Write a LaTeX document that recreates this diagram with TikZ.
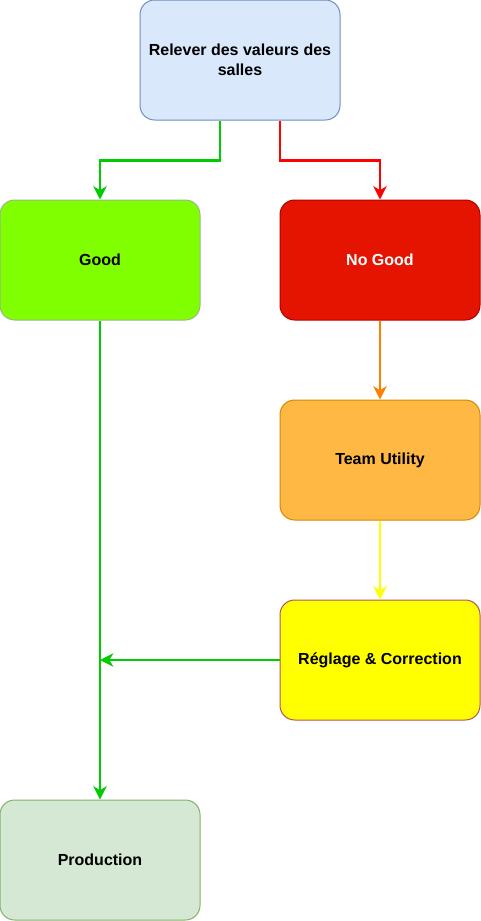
\documentclass[tikz,border=0pt]{standalone}
\usepackage{xcolor}
\usepackage{fontspec}
\setmainfont{Liberation Sans}
\usepackage{tikz}
\usetikzlibrary{positioning, arrows.meta}

\definecolor{bluefill}{HTML}{DAE8FC}
\definecolor{bluedraw}{HTML}{6C8EBF}
\definecolor{goodfill}{HTML}{80FF00}
\definecolor{gooddraw}{HTML}{97B883}
\definecolor{badfill}{HTML}{E51400}
\definecolor{baddraw}{HTML}{B20000}
\definecolor{teamfill}{HTML}{FFB843}
\definecolor{teamdraw}{HTML}{D08A00}
\definecolor{fixdraw}{HTML}{B85450}
\definecolor{prodfill}{HTML}{D5E8D4}
\definecolor{proddraw}{HTML}{82B366}
\definecolor{linegreen}{HTML}{00CC00}
\definecolor{linered}{HTML}{FF0000}
\definecolor{lineorange}{HTML}{FF8000}
\definecolor{lineyellow}{HTML}{FFFF00}

\begin{document}
\begin{tikzpicture}[node distance=150pt, on grid,
        box/.style={rectangle, rounded corners=11pt, minimum width=150pt, minimum height=90pt,
            font=\bfseries\fontsize{12pt}{15pt}\selectfont, align=center, line width=0.75pt},
        flow/.style={-{Stealth[length=10pt, width=10pt, inset=3pt]}, line width=1.6pt}]
        \useasboundingbox (0,0) rectangle (360.75pt,-690.75pt);

        \node[box, fill=goodfill, draw=gooddraw] (good) at (75pt,-195pt) {Good};
        \node[box, fill=badfill, draw=baddraw, text=white] (nogood) [right=210pt of good] {No Good};
        \node[box, fill=bluefill, draw=bluedraw] (releve) [above right=150pt and 105pt of good] {Relever des valeurs des\\salles};
        \node[box, fill=teamfill, draw=teamdraw] (team) [below=of nogood] {Team Utility};
        \node[box, fill=lineyellow, draw=fixdraw] (reglage) [below=of team] {Réglage \& Correction};
        \node[box, fill=prodfill, draw=proddraw] (prod) [below=450pt of good] {Production};
        \coordinate (retour) at (good |- reglage);

        % branches du haut
        \draw[flow, draw=linegreen] ([xshift=-15pt]releve.south) -- ++(0,-30pt) -| (good.north);
        \draw[flow, draw=linered] ([xshift=30pt]releve.south) -- ++(0,-30pt) -| (nogood.north);

        \draw[flow, draw=linegreen] (good) -- (prod);
        \draw[flow, draw=lineorange] (nogood) -- (team);
        \draw[flow, draw=lineyellow] (team) -- (reglage);
        \draw[flow, draw=linegreen] (reglage) -- (retour);

    \end{tikzpicture}
\end{document}
